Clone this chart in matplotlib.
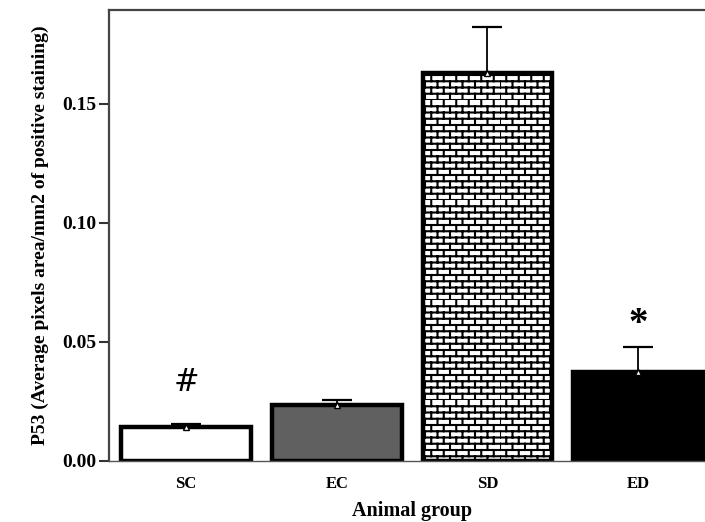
import warnings
import numpy as np
import matplotlib
matplotlib.use("Agg")
import matplotlib.pyplot as plt
import matplotlib.hatch as mhatch
from matplotlib.path import Path

warnings.filterwarnings("ignore")

groups = ["SC", "EC", "SD", "ED"]
means = [0.0143, 0.0235, 0.1632, 0.0374]
sems = [0.0012, 0.0021, 0.0190, 0.0105]
marks = ["#", "", "", "*"]
mark_y = [0.0330, None, None, 0.0572]


# brick hatch, not available in matplotlib by default
class BrickHatch(mhatch.HatchPatternBase):
    def __init__(self, hatch, density):
        n = hatch.count("B")
        self.rows = 16 * n
        self.cols = 8 * n
        self.num_vertices = (self.rows + self.rows * self.cols) * 2

    def set_vertices_and_codes(self, vertices, codes):
        v = []
        for i in range(self.rows):
            y0 = i / self.rows
            y1 = (i + 1) / self.rows
            v += [(0.0, y0), (1.0, y0)]
            off = 0.5 * (i % 2) / self.cols
            for j in range(self.cols):
                x = j / self.cols + off
                v += [(x, y0), (x, y1)]
        vertices[:] = np.array(v)
        codes[0::2] = Path.MOVETO
        codes[1::2] = Path.LINETO


mhatch._hatch_types.append(BrickHatch)

plt.rcParams["font.family"] = ["Liberation Serif", "DejaVu Serif"]
plt.rcParams["hatch.linewidth"] = 1.5
plt.rcParams["hatch.color"] = "black"

fig = plt.figure(figsize=(7.05, 5.22), dpi=100)
# axes runs a little past the right edge, like the cropped original
ax = fig.add_axes([0.155, 0.117, 0.859, 0.864])

x = np.arange(len(groups))
fills = ["white", "#606060", "white", "black"]
hatches = [None, None, "B", None]
bars = ax.bar(x, means, width=0.86, color=fills, edgecolor="black",
              linewidth=3.2, zorder=2)
for b, h in zip(bars, hatches):
    if h:
        b.set_hatch(h)

ax.errorbar(x, means, yerr=[np.zeros(len(sems)), sems], fmt="none",
            ecolor="black", elinewidth=1.3, capsize=11, capthick=1.6, zorder=3)
ax.plot(x, means, linestyle="none", marker="^", markersize=4,
        markerfacecolor="white", markeredgecolor="black", zorder=4)

for xi, m, my in zip(x, marks, mark_y):
    if m == "#":
        ax.text(xi, my, m, ha="center", va="center", fontsize=22,
                family=["DejaVu Serif"])
    elif m:
        ax.text(xi, my, m, ha="center", va="center", fontsize=28,
                fontweight="bold", family=["Liberation Serif"])

ax.set_xlim(-0.51, 3.51)
ax.set_ylim(0, 0.1895)
ax.set_yticks([0.0, 0.05, 0.10, 0.15])
ax.set_yticklabels(["0.00", "0.05", "0.10", "0.15"], fontsize=14, fontweight="bold")
ax.set_xticks(x)
ax.set_xticklabels(groups, fontsize=12, fontweight="bold")
ax.tick_params(axis="x", length=0, pad=11)
ax.tick_params(axis="y", length=7, width=1.5, color="#333333", pad=2)

ax.spines["right"].set_visible(False)
for side in ["left", "top"]:
    ax.spines[side].set_color("#444444")
    ax.spines[side].set_linewidth(1.6)
ax.spines["bottom"].set_color("#555555")
ax.spines["bottom"].set_linewidth(1.0)

ax.set_xlabel("Animal group", fontsize=14.5, fontweight="bold", labelpad=6)
ax.set_ylabel("P53 (Average pixels area/mm2 of positive staining)",
              fontsize=14, fontweight="bold", labelpad=10)

fig.savefig("out.png", dpi=100)
